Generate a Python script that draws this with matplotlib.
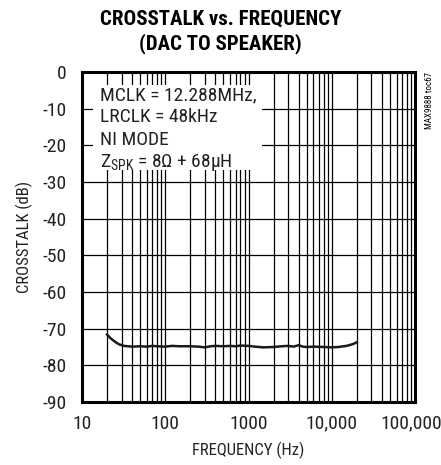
import matplotlib
matplotlib.use("Agg")
import matplotlib.pyplot as plt
import matplotlib.transforms as mtransforms
from matplotlib.patches import Rectangle
from matplotlib.ticker import FixedLocator, LogLocator, NullFormatter

plt.rcParams['font.family'] = ['Roboto Condensed', 'DejaVu Sans']
plt.rcParams['mathtext.fontset'] = 'custom'
plt.rcParams['mathtext.rm'] = 'Roboto Condensed'
plt.rcParams['mathtext.it'] = 'Roboto Condensed:italic'
plt.rcParams['mathtext.bf'] = 'Roboto Condensed:bold'

# Crosstalk measurement, DAC to speaker
freq_hz = [20, 22, 25, 28, 32, 40, 50, 60, 70, 80, 100, 120, 150, 200, 250, 300,
           350, 400, 500, 600, 700, 800, 1000, 1200, 1500, 2000, 2500, 3000, 3500,
           4000, 4500, 5000, 6000, 8000, 10000, 12000, 15000, 18000, 20000]
crosstalk_db = [-71.6, -72.6, -73.6, -74.3, -74.7, -74.9, -74.8, -74.9, -74.7, -74.8,
                -74.9, -74.7, -74.8, -74.8, -74.9, -75.1, -74.8, -74.7, -74.8, -74.7,
                -74.8, -74.6, -74.7, -74.9, -75.1, -75.0, -74.8, -74.7, -74.9, -74.5,
                -74.9, -75.0, -74.9, -75.0, -75.1, -75.0, -74.7, -74.2, -73.7]

x_ticks = [10, 100, 1000, 10000, 100000]
x_tick_labels = ["10", "100", "1000", "10,000", "100,000"]
y_ticks = [0, -10, -20, -30, -40, -50, -60, -70, -80, -90]
y_tick_labels = ["0", "-10", "-20", "-30", "-40", "-50", "-60", "-70", "-80", "-90"]

fig = plt.figure(figsize=(4.41, 4.65), dpi=100)
ax = fig.add_axes([82 / 441, 1 - 402 / 465, 333 / 441, 330 / 465])

ax.set_xscale('log')
ax.set_xlim(10, 100000)
ax.set_ylim(-90, 0)

ax.xaxis.set_major_locator(FixedLocator(x_ticks))
ax.set_xticklabels(x_tick_labels)
ax.xaxis.set_minor_locator(LogLocator(base=10, subs=range(2, 10)))
ax.xaxis.set_minor_formatter(NullFormatter())
ax.set_yticks(y_ticks)
ax.set_yticklabels(y_tick_labels)

ax.grid(True, which='major', axis='both', color='black', linewidth=0.9)
ax.grid(True, which='minor', axis='x', color='black', linewidth=0.9)
ax.tick_params(which='both', length=0, labelsize=14, labelcolor='#222222')
ax.tick_params(axis='x', pad=9)
ax.tick_params(axis='y', pad=11)
for s in ax.spines.values():
    s.set_linewidth(2.2)
    s.set_zorder(5)

# keep the last frequency label inside the canvas
last = ax.get_xticklabels()[-1]
last.set_transform(last.get_transform() +
                   mtransforms.ScaledTranslation(-3 / 72, 0, fig.dpi_scale_trans))

ax.plot(freq_hz, crosstalk_db, color='#1a1a1a', linewidth=1.8, zorder=4)

# Conditions box
ax.add_patch(Rectangle((0.033, 0.703), 0.507, 0.258, transform=ax.transAxes,
                       facecolor='white', edgecolor='none', zorder=3))
conds = ["MCLK = 12.288MHz,", "LRCLK = 48kHz", "NI MODE",
         r"Z$_{\mathregular{SPK}}$ = 8$\Omega$ + 68µH"]
baselines = [0.915, 0.847, 0.779, 0.712]
for t, yb in zip(conds, baselines):
    ax.text(0.054, yb, t, transform=ax.transAxes, fontsize=14, color='#222222',
            va='baseline', ha='left', zorder=6)

ax.set_xlabel("FREQUENCY (Hz)", fontsize=12, labelpad=7, color='#222222')
ax.set_ylabel("CROSSTALK (dB)", fontsize=12, labelpad=7, color='#222222')

fig.text(0.5, 1 - 19.5 / 465, "CROSSTALK vs. FREQUENCY", ha='center', va='center',
         fontsize=15, fontweight='black')
fig.text(0.5, 1 - 43.5 / 465, "(DAC TO SPEAKER)", ha='center', va='center',
         fontsize=15, fontweight='black')
fig.text(430 / 441, 1 - 72 / 465, "MAX9888 toc67", rotation=90, ha='center', va='top',
         fontsize=6.5)

fig.savefig("out.png", dpi=100)
